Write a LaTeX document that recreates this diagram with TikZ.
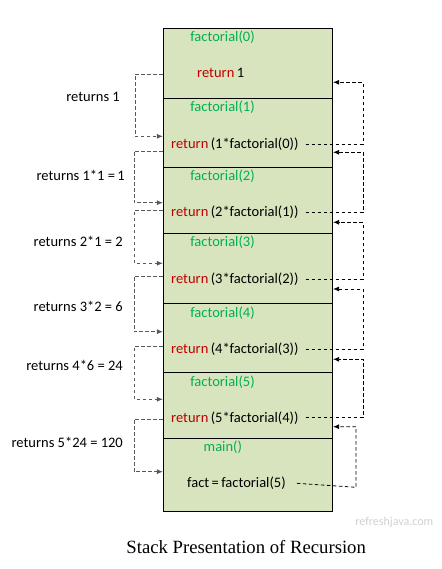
\documentclass[tikz,border=0pt]{standalone}
\usepackage{fontspec}
\setmainfont{Carlito}
\newfontfamily\capfont{Liberation Serif}
\usetikzlibrary{arrows.meta}
\definecolor{stackfill}{HTML}{D7E4BD}
\definecolor{fngreen}{HTML}{00B050}
\definecolor{retred}{HTML}{C00000}
\definecolor{markgray}{HTML}{D0D0D0}
\definecolor{linegray}{HTML}{595959}
\tikzset{
  stackframe/.style={draw, thick, fill=stackfill, minimum width=169.4pt, inner sep=0pt},
  fname/.style={text=fngreen, inner sep=0pt},
  stmt/.style={anchor=west, inner sep=0pt},
  retlabel/.style={anchor=east, inner sep=0pt},
  lret/.style={->, linegray, line width=0.9pt, dash pattern=on 3.5pt off 2.5pt},
  rret/.style={->, black, line width=0.8pt, dash pattern=on 3.5pt off 2.5pt}
}
\begin{document}
\begin{tikzpicture}[x=1pt, y=-1pt, >={Latex[length=6pt,width=5pt]}, font=\fontsize{14.5}{17}\selectfont]
    \useasboundingbox (0,0) rectangle (441,569);
    % stack frames
    \node[stackframe, minimum height=70.4pt] (f0) at (248,63.5) {};
    \node[stackframe, minimum height=68.6pt] (f1) at (248,133) {};
    \node[stackframe, minimum height=66pt] (f2) at (248,200.3) {};
    \node[stackframe, minimum height=70pt] (f3) at (248,268.3) {};
    \node[stackframe, minimum height=69pt] (f4) at (248,337.8) {};
    \node[stackframe, minimum height=66pt] (f5) at (248,405.3) {};
    \node[stackframe, minimum height=72.7pt] (fm) at (248,474.7) {};
    % frame titles
    \node[fname] (n0) at (222.5,37.3) {factorial(0)};
    \node[fname] (n1) at (222.5,107.7) {factorial(1)};
    \node[fname] (n2) at (222.5,176.7) {factorial(2)};
    \node[fname] (n3) at (222.5,242.3) {factorial(3)};
    \node[fname] (n4) at (222.5,313.3) {factorial(4)};
    \node[fname] (n5) at (222.5,381.7) {factorial(5)};
    \node[fname] (nm) at (222.8,447.3) {main()};
    % statements
    \node[stmt] (r0) at (197,73.3) {\textcolor{retred}{return}\,1};
    \node[stmt] (r1) at (171,144) {\textcolor{retred}{return}\,(1*factorial(0))};
    \node[stmt] (r2) at (171,212.7) {\textcolor{retred}{return}\,(2*factorial(1))};
    \node[stmt] (r3) at (171,279) {\textcolor{retred}{return}\,(3*factorial(2))};
    \node[stmt] (r4) at (171,349) {\textcolor{retred}{return}\,(4*factorial(3))};
    \node[stmt] (r5) at (171,417.7) {\textcolor{retred}{return}\,(5*factorial(4))};
    \node[stmt] (rm) at (187,483.3) {fact\,=\,factorial(5)};
    % returned values
    \node[retlabel] (v1) at (120,96.7) {returns 1};
    \node[retlabel] (v2) at (125,175) {returns 1*1 =\,1};
    \node[retlabel] (v3) at (123,241.7) {returns 2*1 = 2};
    \node[retlabel] (v4) at (123,306.7) {returns 3*2 = 6};
    \node[retlabel] (v5) at (123,365.7) {returns 4*6 = 24};
    \node[retlabel] (v6) at (123,442.7) {returns 5*24 = 120};
    % values passed down
    \draw[lret] (f0.west |- 0,74) -- (135,74) |- (f1.west |- 0,136.3);
    \draw[lret] (f1.west |- 0,151) -- (134,151) |- (f2.west |- 0,202.7);
    \draw[lret] (f2.west |- 0,210.7) -- (134,210.7) |- (f3.west |- 0,263.3);
    \draw[lret] (f3.west |- 0,276) -- (134,276) |- (f4.west |- 0,331.7);
    \draw[lret] (f4.west |- 0,346.7) -- (134,346.7) |- (f5.west |- 0,399.3);
    \draw[lret] (f5.west |- 0,419) -- (134,419) |- (fm.west |- 0,471.7);
    % calls made upward
    \draw[rret] ([xshift=7pt]r1.east) -- (363,144) |- (f0.east |- 0,82.3);
    \draw[rret] ([xshift=7pt]r2.east) -- (363,212.7) |- (f1.east |- 0,152.3);
    \draw[rret] ([xshift=7pt]r3.east) -- (363,279) |- (f2.east |- 0,222.3);
    \draw[rret] ([xshift=7pt]r4.east) -- (363,349) |- (f3.east |- 0,289);
    \draw[rret] ([xshift=7pt]r5.east) -- (363,417.7) |- (f4.east |- 0,359.3);
    \draw[rret] ([xshift=11pt]rm.east) -- (356,487.3) |- (f5.east |- 0,426.7);
    % footer
    \node[text=markgray, font=\fontsize{12}{14}\selectfont] (mark) at (394.3,522.7) {refreshjava.com};
    \node[font=\capfont\fontsize{18.7}{22}\selectfont] (caption) at (246.2,546.7) {Stack Presentation of Recursion};
\end{tikzpicture}
\end{document}
